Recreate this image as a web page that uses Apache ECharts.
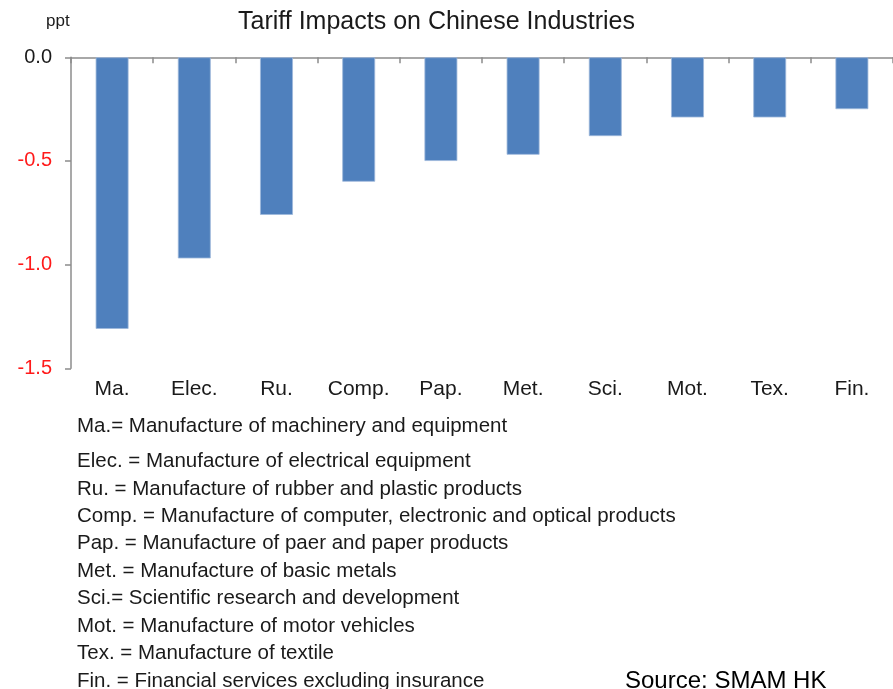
<!DOCTYPE html>
<html>
<head>
<meta charset="utf-8">
<title>Tariff Impacts on Chinese Industries</title>
<script src="https://cdn.jsdelivr.net/npm/echarts@6/dist/echarts.min.js"></script>
<style>
  html, body { margin: 0; padding: 0; background: #ffffff; }
  #chart { width: 893px; height: 689px; }
</style>
</head>
<body>
<div id="chart"></div>
<script>
// Industry abbreviations on the category axis
const categories = ['Ma.', 'Elec.', 'Ru.', 'Comp.', 'Pap.', 'Met.', 'Sci.', 'Mot.', 'Tex.', 'Fin.'];
// Impact on each industry, percentage points
const impacts = [-1.31, -0.97, -0.76, -0.60, -0.50, -0.47, -0.38, -0.29, -0.29, -0.25];
// Value-axis ticks
const yTicks = [-1.5, -1.0, -0.5, 0.0];
// Key to the abbreviations
const notes = [
  'Ma.= Manufacture of machinery and equipment',
  'Elec. = Manufacture of electrical equipment',
  'Ru. = Manufacture of rubber and plastic products',
  'Comp. = Manufacture of computer, electronic and optical products',
  'Pap. = Manufacture of paer and paper products',
  'Met. = Manufacture of basic metals',
  'Sci.= Scientific research and development',
  'Mot. = Manufacture of motor vehicles',
  'Tex. = Manufacture of textile',
  'Fin. = Financial services excluding insurance'
];
const titleText = 'Tariff Impacts on Chinese Industries';
const unitText = 'ppt';
const sourceText = 'Source: SMAM HK';

const FONT = '"Liberation Sans", Arial, sans-serif';
const AXIS_GREY = '#8c8c8c';
const INK = '#1a1a1a';

const chart = echarts.init(document.getElementById('chart'), null, { renderer: 'canvas' });

// Text placed by its left edge and vertical middle
function label(text, x, y, size, fill) {
  return {
    type: 'text',
    x: x,
    y: y,
    style: { text: text, font: size + 'px ' + FONT, fill: fill, align: 'left', verticalAlign: 'middle' }
  };
}

// Key lines below the plot: first line sits a little apart from the rest
const noteY = [426, 461.5, 489, 516.5, 543.5, 571, 598.5, 626, 653.5, 681];
const noteGraphics = notes.map((t, i) => label(t, 77, noteY[i], 20.5, INK));

chart.setOption({
  animation: false,
  backgroundColor: '#ffffff',
  grid: { left: 71, top: 57.3, bottom: 320.7, right: -12.6, containLabel: false },
  xAxis: [
    {
      // axis line along zero, at the top of the plot
      type: 'category',
      data: categories,
      position: 'top',
      axisLine: { show: true, lineStyle: { color: AXIS_GREY, width: 1.5 } },
      axisTick: { show: true, inside: true, length: 6, lineStyle: { color: AXIS_GREY, width: 1.5 } },
      axisLabel: { show: false },
      splitLine: { show: false }
    },
    {
      // category names along the bottom
      type: 'category',
      data: categories,
      position: 'bottom',
      axisLine: { show: false },
      axisTick: { show: false },
      axisLabel: { show: true, interval: 0, hideOverlap: false, margin: 10, fontFamily: FONT, fontSize: 21, color: INK },
      splitLine: { show: false }
    }
  ],
  yAxis: {
    type: 'value',
    min: yTicks[0],
    max: yTicks[yTicks.length - 1],
    interval: 0.5,
    axisLine: { show: true, lineStyle: { color: AXIS_GREY, width: 1.5 } },
    axisTick: { show: true, length: 6, lineStyle: { color: AXIS_GREY, width: 1.5 } },
    splitLine: { show: false },
    axisLabel: {
      margin: 19,
      formatter: v => (v === 0 ? '{z|0.0}' : '{n|' + v.toFixed(1) + '}'),
      rich: {
        z: { fontFamily: FONT, fontSize: 20, color: INK },
        n: { fontFamily: FONT, fontSize: 20, color: '#ff1a1a' }
      }
    }
  },
  series: [{
    type: 'bar',
    xAxisIndex: 0,
    data: impacts,
    barWidth: '40%',
    itemStyle: { color: '#4f80bd', borderColor: '#9db7db', borderWidth: 0.8 }
  }],
  graphic: [
    label(titleText, 238, 22, 25, INK),
    label(unitText, 46, 21, 17, INK),
    ...noteGraphics,
    label(sourceText, 625, 681.5, 24, '#000000')
  ]
});
</script>
</body>
</html>
